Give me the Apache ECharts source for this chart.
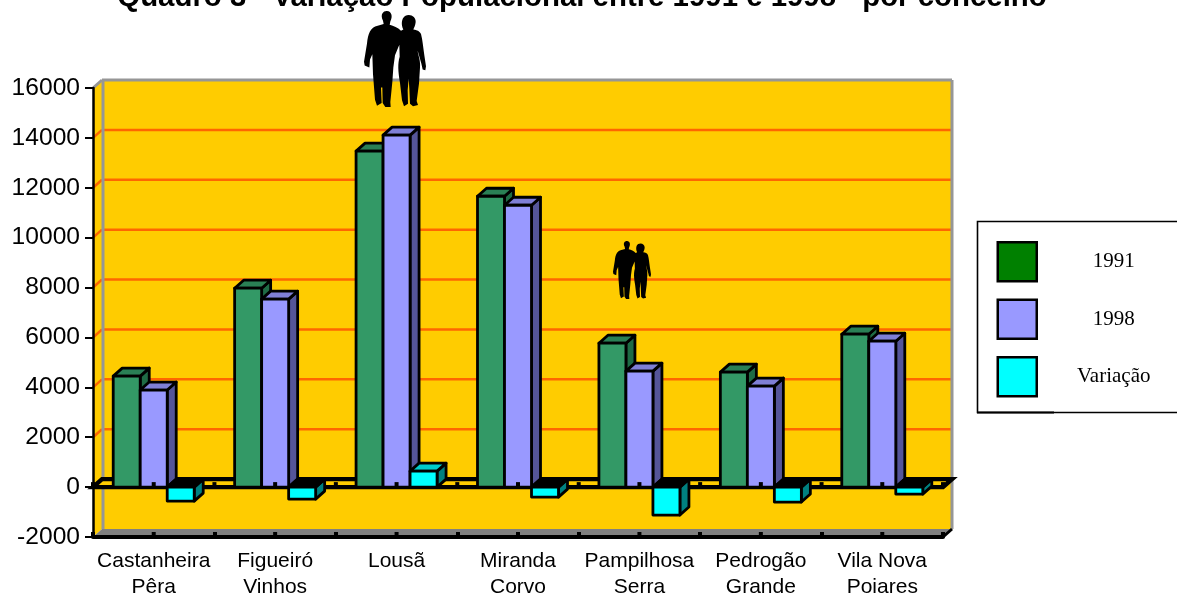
<!DOCTYPE html>
<html><head><meta charset="utf-8">
<style>html,body{margin:0;padding:0;background:#fff}#c{width:1177px;height:597px}</style>
<script src="https://cdn.jsdelivr.net/npm/echarts@6/dist/echarts.min.js"></script>
</head><body><div id="c"></div>
<script>
const categories = ['Castanheira\nPêra','Figueiró\nVinhos','Lousã','Miranda\nCorvo','Pampilhosa\nSerra','Pedrogão\nGrande','Vila Nova\nPoiares'];
const values1991 = [4450,7975,13470,11660,5770,4610,6130];
const values1998 = [3890,7535,14110,11300,4650,4050,5850];
const valuesVar  = [-560,-480,640,-400,-1120,-600,-280];
const yTicks = [-2000,0,2000,4000,6000,8000,10000,12000,14000,16000];
const DX = 9, DY = -8, BAR = 27;
const palette = {
  g:{front:'#339966',top:'#2a8055',side:'#1f6b45',legend:'#008000'},
  b:{front:'#9999FF',top:'#7f7fd6',side:'#555599',legend:'#9999FF'},
  c:{front:'#00FFFF',top:'#00CCCC',side:'#008080',legend:'#00FFFF'}
};
const couple = 'M68,32 C58,12 70,2 80,3 C94,4 98,20 90,34 L88,44 C100,47 112,52 122,62 L129,58 C122,45 123,26 134,18 C150,10 167,20 166,36 C165,46 162,52 159,58 C170,60 178,62 182,72 C187,90 188,110 192,135 L197,168 L195,180 L187,178 L183,160 L172,122 C173,135 181,150 179,172 L176,220 L169,272 L173,284 L158,288 L149,280 L147,235 L145,205 L142,240 L143,280 L131,288 L125,270 L119,218 C113,182 112,160 118,140 L117,104 L104,135 L99,172 L96,215 L90,275 L91,290 L75,290 L67,278 L66,232 L62,232 L64,278 L50,286 L44,268 L38,192 L36,132 L29,148 L27,172 L13,166 L11,155 L20,100 C23,70 30,52 52,47 L70,42 Z';
const couples = [[364,11,62,96],[613,241,38,58]];

function bars(idx, pal){
  return function(params, api){
    const cat = api.value(0), val = api.value(1);
    const p0 = api.coord([cat,0]), pv = api.coord([cat,val]);
    const xl = p0[0] + (idx-1.5)*BAR, xr = xl + BAR;
    const top = Math.min(p0[1],pv[1]), bot = Math.max(p0[1],pv[1]);
    const st = {stroke:'#000',lineWidth:2.8,lineJoin:'round'};
    const poly = (pts,fill)=>({type:'polygon',shape:{points:pts},style:Object.assign({fill},st)});
    return {type:'group',children:[
      poly([[xr,top],[xr+DX,top+DY],[xr+DX,bot+DY],[xr,bot]],pal.side),
      poly([[xl,top],[xl+DX,top+DY],[xr+DX,top+DY],[xr,top]],val<0?'#000':pal.top),
      poly([[xl,top],[xr,top],[xr,bot],[xl,bot]],pal.front)
    ]};
  };
}
function frame(api){
  const band = api.size([1,0])[0];
  const c0 = api.coord([0,0])[0];
  return {band,xl:c0-band/2,xr:c0-band/2+band*categories.length};
}
function chrome(params, api){
  const f = frame(api), xl=f.xl, xr=f.xr;
  const yT = api.coord([0,16000])[1], yB = api.coord([0,-2000])[1], y0 = api.coord([0,0])[1];
  const ch = [];
  const line=(a,b,c,w)=>({type:'line',shape:{x1:a[0],y1:a[1],x2:b[0],y2:b[1]},style:{stroke:c,lineWidth:w}});
  ch.push({type:'polygon',shape:{points:[[xl,yT],[xl+DX,yT+DY],[xr+DX,yT+DY],[xr+DX,yB+DY],[xl+DX,yB+DY],[xl,yB]]},style:{fill:'#FFCC00'}});
  ch.push({type:'polygon',shape:{points:[[xl,yB],[xl+DX,yB+DY],[xr+DX,yB+DY],[xr,yB]]},style:{fill:'#808080'}});
  yTicks.forEach(t=>{
    if(t===16000||t===-2000||t===0) return;
    const y = api.coord([0,t])[1];
    ch.push(line([xl,y],[xl+DX,y+DY],'#FF6600',2.5));
    ch.push(line([xl+DX,y+DY],[xr+DX,y+DY],'#FF6600',2.5));
  });
  ch.push(line([xl,yT],[xl+DX,yT+DY],'#969696',3));
  ch.push(line([xl+DX,yT+DY],[xr+DX,yT+DY],'#969696',3));
  ch.push(line([xl+DX+1,yT+DY],[xl+DX+1,yB+DY],'#969696',3));
  ch.push(line([xr+DX,yT+DY],[xr+DX,yB+DY],'#969696',3));
  ch.push(line([xr,yB],[xr+DX,yB+DY],'#000',3));
  ch.push({type:'polygon',shape:{points:[[xl,y0],[xl+DX,y0+DY],[xr+DX,y0+DY],[xr,y0]]},style:{fill:'#FFCC00',stroke:'#000',lineWidth:4.4}});
  return {type:'group',children:ch};
}
function ticks(params, api){
  const f = frame(api), yB = api.coord([0,-2000])[1], y0 = api.coord([0,0])[1];
  const ch = [];
  for(let i=0;i<=categories.length*2;i++){
    const x = f.xl+i*f.band/2;
    ch.push({type:'rect',shape:{x:x-2,y:y0-5,width:4,height:4},style:{fill:'#000'}});
    if(i%2===1) ch.push({type:'rect',shape:{x:x-2,y:yB-5,width:4,height:4},style:{fill:'#000'}});
  }
  return {type:'group',children:ch};
}
function people(params, api){
  return {type:'group',children:couples.map(c=>({type:'path',shape:{pathData:couple,x:c[0],y:c[1],width:c[2],height:c[3],layout:'cover'},style:{fill:'#000'}}))};
}
const chart = echarts.init(document.getElementById('c'),null,{renderer:'canvas'});
const toData = a => a.map((v,i)=>[i,v]);
const legendItem = (name,color)=>({name,icon:'rect',itemStyle:{color,borderColor:'#000',borderWidth:2.5}});
chart.setOption({
  animation:false,
  backgroundColor:'#fff',
  title:{text:'Quadro 3 - Variação Populacional entre 1991 e 1998 - por concelho',left:577,top:-22,textAlign:'center',
    textStyle:{fontFamily:'Liberation Sans',fontWeight:'bold',fontSize:29.4,color:'#000'}},
  legend:{orient:'vertical',left:996.5,top:241,itemWidth:39,itemHeight:39,itemGap:16,selectedMode:false,padding:0,
    data:[legendItem('1991',palette.g.legend),legendItem('1998',palette.b.legend),legendItem('Variação',palette.c.legend)],
    formatter:n=>'{a|'+n+'}',
    textStyle:{rich:{a:{fontFamily:'Liberation Serif',fontSize:21,color:'#000',width:144,align:'center'}}}},
  grid:{left:93,right:234,top:88,bottom:60,outerBoundsMode:'none'},
  xAxis:{type:'category',data:categories,z:3,
    axisLine:{onZero:false,lineStyle:{color:'#000',width:4}},
    axisTick:{show:true,inside:true,length:5,lineStyle:{color:'#000',width:4}},
    axisLabel:{fontFamily:'Liberation Sans',fontSize:21,lineHeight:26,color:'#000',margin:11,interval:0},
    splitLine:{show:false}},
  yAxis:{type:'value',min:-2000,max:16000,interval:2000,z:3,
    axisLine:{show:true,lineStyle:{color:'#000',width:2.5}},
    axisTick:{show:true,length:8,lineStyle:{color:'#000',width:2}},
    axisLabel:{fontFamily:'Liberation Sans',fontSize:24.6,color:'#000',margin:13,formatter:v=>String(v)},
    splitLine:{show:false}},
  series:[
    {type:'custom',name:'wall',data:[[0,0]],renderItem:chrome,z:1,silent:true,encode:{x:0,y:1}},
    {type:'custom',name:'1991',data:toData(values1991),renderItem:bars(0,palette.g),z:4,itemStyle:{color:palette.g.legend},encode:{x:0,y:1}},
    {type:'custom',name:'1998',data:toData(values1998),renderItem:bars(1,palette.b),z:4,itemStyle:{color:palette.b.legend},encode:{x:0,y:1}},
    {type:'custom',name:'Variação',data:toData(valuesVar),renderItem:bars(2,palette.c),z:4,itemStyle:{color:palette.c.legend},encode:{x:0,y:1}},
    {type:'custom',name:'ticks',data:[[0,0]],renderItem:ticks,z:5,silent:true,encode:{x:0,y:1}},
    {type:'custom',name:'people',data:[[0,0]],renderItem:people,z:6,silent:true,encode:{x:0,y:1}}
  ],
  graphic:[
    {type:'rect',z:0,shape:{x:977.5,y:221.5,width:220,height:191},style:{fill:'#fff',stroke:'#000',lineWidth:1.6}},
    {type:'rect',z:1,shape:{x:977,y:411.5,width:77,height:2},style:{fill:'#000'}}
  ]
});
</script></body></html>
